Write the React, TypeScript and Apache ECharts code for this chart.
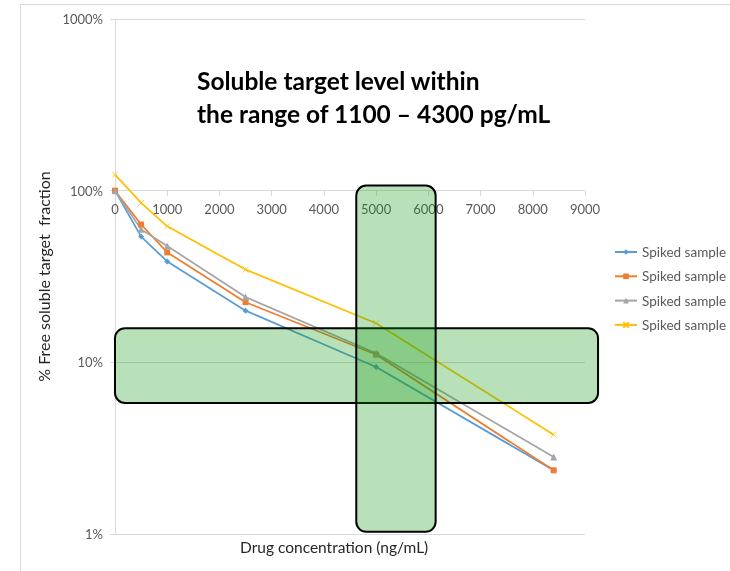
import React, { useEffect, useRef } from "react";
import * as echarts from "echarts";

// Drug concentration (ng/mL) at which each sample was measured
const concentrations = [0, 500, 1000, 2500, 5000, 8400];

// % free soluble target for four spiked samples
const sampleA = [100, 54, 38.7, 20.0, 9.4, 2.35];
const sampleB = [100, 63.5, 43.7, 22.4, 11.1, 2.35];
const sampleC = [100, 59.5, 47.6, 24.0, 11.3, 2.81];
const sampleD = [124, 85, 62, 34.7, 16.9, 3.79];

const seriesNames = ["Spiked sample", "Spiked sample", "Spiked sample", "Spiked sample"];
const seriesColors = ["#5B9BD5", "#ED7D31", "#A5A5A5", "#FFC000"];

// Highlight bands in data units: [xFrom, xTo, yFrom, yTo]
const targetBand = [0, 9250, 5.8, 15.8];
const doseBand = [4620, 6140, 1.03, 107];

const FONT = "Lato, 'Open Sans', sans-serif";

export default function App() {
  const ref = useRef<HTMLDivElement>(null);

  useEffect(() => {
    if (!ref.current) return;
    const chart = echarts.init(ref.current, null, { renderer: "svg" });

    const toPairs = (vals: number[]) => concentrations.map((c, i) => [c, vals[i]]);
    const symbols = [
      "diamond",
      "rect",
      "triangle",
      "path://M0,0L10,10M10,0L0,10",
    ];
    const symbolSizes = [6, 6, 7, 6];
    const datasets = [sampleA, sampleB, sampleC, sampleD];

    chart.setOption({
      animation: false,
      textStyle: { fontFamily: FONT },
      grid: { left: 115, top: 19, width: 470, height: 515 },
      legend: {
        orient: "vertical",
        left: 614,
        top: 245,
        itemGap: 10.3,
        itemWidth: 22,
        itemHeight: 7,
        padding: 0,
        textStyle: { fontSize: 13.5, color: "#595959", fontFamily: FONT },
        data: seriesNames.map((n, i) => ({ name: n + "\u200B".repeat(i) })),
      },
      xAxis: {
        type: "value",
        min: 0,
        max: 9000,
        interval: 1000,
        position: "top",
        offset: -171.7,
        axisLine: { show: true, lineStyle: { color: "#D9D9D9", width: 1 } },
        axisTick: { show: true, inside: true, length: 5, lineStyle: { color: "#D9D9D9" } },
        axisLabel: {
          inside: true,
          margin: 12,
          fontSize: 13,
          color: "#595959",
          fontFamily: FONT,
          formatter: (v: number) => String(v),
        },
        splitLine: { show: false },
      },
      yAxis: {
        type: "log",
        logBase: 10,
        min: 1,
        max: 1000,
        name: "% Free soluble target  fraction",
        nameLocation: "middle",
        nameGap: 64,
        nameTextStyle: { fontSize: 16, color: "#262626", fontFamily: FONT },
        axisLine: { show: true, lineStyle: { color: "#D9D9D9" } },
        axisTick: { show: true, length: 5, lineStyle: { color: "#D9D9D9" } },
        axisLabel: {
          formatter: (v: number) => `${Math.round(v)}%`,
          fontSize: 13,
          margin: 12,
          color: "#595959",
          fontFamily: FONT,
        },
        splitLine: { show: true, lineStyle: { color: "#D9D9D9" } },
        minorTick: { show: false },
      },
      series: datasets.map((d, i) => ({
        name: seriesNames[i] + "\u200B".repeat(i),
        type: "line",
        data: toPairs(d),
        symbol: symbols[i],
        symbolSize: symbolSizes[i],
        showSymbol: true,
        lineStyle: { color: seriesColors[i], width: 1.75 },
        itemStyle: {
          color: seriesColors[i],
          borderColor: seriesColors[i],
          borderWidth: i === 3 ? 0.8 : 0,
        },
        emphasis: { disabled: true },
        z: 2,
      })),
    });

    const band = (b: number[]) => {
      const p0 = chart.convertToPixel({ gridIndex: 0 }, [b[0], b[3]]) as number[];
      const p1 = chart.convertToPixel({ gridIndex: 0 }, [b[1], b[2]]) as number[];
      return {
        type: "rect",
        z: 100,
        shape: { x: p0[0], y: p0[1], width: p1[0] - p0[0], height: p1[1] - p0[1], r: 10 },
        style: { fill: "rgba(22,155,22,0.3)", stroke: "#000000", lineWidth: 2 },
      };
    };

    chart.setOption({
      graphic: [
        {
          type: "rect",
          z: -10,
          silent: true,
          shape: { x: 20.5, y: 4.5, width: 800, height: 700 },
          style: { fill: "none", stroke: "#D9D9D9", lineWidth: 1 },
        },
        band(targetBand),
        band(doseBand),
        {
          type: "text",
          z: 110,
          left: 197,
          top: 64,
          style: {
            text: "Soluble target level within\nthe range of 1100 \u2013 4300 pg/mL",
            font: `bold 24.5px ${FONT}`,
            lineHeight: 33,
            fill: "#000000",
          },
        },
        {
          type: "text",
          z: 110,
          left: 240,
          top: 539,
          style: {
            text: "Drug concentration (ng/mL)",
            font: `15.5px ${FONT}`,
            fill: "#262626",
          },
        },
      ],
    });

    return () => chart.dispose();
  }, []);

  return <div ref={ref} style={{ width: 730, height: 571, position: "fixed", left: 0, top: 0 }} />;
}
